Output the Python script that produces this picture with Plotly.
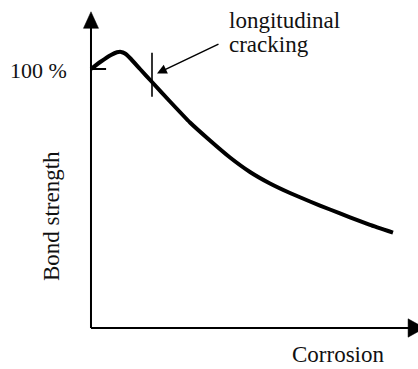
import plotly.graph_objects as go

# Idealised bond-strength vs. corrosion curve (bond strength in % of the uncorroded value)
corrosion = [0.0, 0.331, 0.662, 0.861, 0.993, 1.126, 1.291, 1.623, 2.020, 2.616, 3.278,
             3.940, 4.603, 5.265, 5.927, 6.589, 7.252, 7.914, 8.576, 9.238, 10.0]
bond_strength = [100.0, 102.9, 105.4, 106.45, 106.6, 106.0, 104.25, 100.0, 94.98, 87.45, 79.34,
                 72.39, 65.83, 60.23, 55.79, 52.12, 48.84, 45.75, 42.74, 39.77, 36.80]

# Onset of longitudinal cracking
crack_corrosion = 2.02
crack_span = [89.3, 106.3]
crack_label = ["longitudinal", "cracking"]

y_label = "Bond strength"
x_label = "Corrosion"
ref_label = "100 %"
ref_value = 100.0

# Plot window (data units) and axis-arrow extents
X_RANGE = [-3.013, 10.828]
Y_RANGE = [-15.83, 126.64]
Y_ARROW_BASE, Y_ARROW_TIP, Y_ARROW_HALF = 115.7, 122.1, 0.25
X_ARROW_BASE, X_ARROW_TIP, X_ARROW_HALF = 10.50, 11.05, 3.55

FONT = dict(family="Liberation Serif, Times New Roman, serif", size=23, color="#111111")

fig = go.Figure()

fig.add_trace(go.Scatter(
    x=corrosion, y=bond_strength, mode="lines",
    line=dict(color="black", width=4, shape="spline", smoothing=0.4),
    hoverinfo="skip", showlegend=False,
))

shapes = [
    # axes
    dict(type="line", x0=0, y0=0, x1=0, y1=Y_ARROW_BASE + 0.5,
         line=dict(color="black", width=2)),
    dict(type="line", x0=0, y0=0, x1=X_ARROW_BASE + 0.05, y1=0,
         line=dict(color="black", width=2)),
    dict(type="path",
         path=f"M {-Y_ARROW_HALF},{Y_ARROW_BASE} L {Y_ARROW_HALF},{Y_ARROW_BASE} L 0,{Y_ARROW_TIP} Z",
         fillcolor="black", line=dict(color="black", width=0.5)),
    dict(type="path",
         path=f"M {X_ARROW_BASE},{-X_ARROW_HALF} L {X_ARROW_BASE},{X_ARROW_HALF} L {X_ARROW_TIP},0 Z",
         fillcolor="black", line=dict(color="black", width=0.5)),
    # 100 % tick
    dict(type="line", x0=0, y0=ref_value, x1=0.5, y1=ref_value,
         line=dict(color="black", width=2)),
    # cracking marker
    dict(type="line", x0=crack_corrosion, y0=crack_span[0], x1=crack_corrosion, y1=crack_span[1],
         line=dict(color="black", width=1.6)),
]

annotations = [
    dict(x=0, y=ref_value, text=ref_label, showarrow=False, xanchor="right",
         yanchor="middle", xshift=-22, yshift=-1, font=dict(FONT, size=22)),
    dict(x=-1.325, y=43.2, text=y_label, showarrow=False, textangle=-90,
         xanchor="center", yanchor="middle", font=FONT),
    dict(x=8.18, y=-10.4, text=x_label, showarrow=False,
         xanchor="center", yanchor="middle", font=FONT),
    dict(x=4.50, y=118.9, text=crack_label[0], showarrow=False,
         xanchor="left", yanchor="middle", font=FONT),
    dict(x=4.50, y=109.3, text=crack_label[1], showarrow=False,
         xanchor="left", yanchor="middle", font=FONT),
    dict(x=2.185, y=98.3, text="", showarrow=True, ax=63, ay=-30,
         arrowhead=2, arrowsize=1.3, arrowwidth=1.5, arrowcolor="black"),
]

fig.update_layout(
    width=418, height=369,
    margin=dict(l=0, r=0, t=0, b=0),
    paper_bgcolor="white", plot_bgcolor="white",
    xaxis=dict(range=X_RANGE, visible=False, fixedrange=True),
    yaxis=dict(range=Y_RANGE, visible=False, fixedrange=True),
    shapes=shapes, annotations=annotations,
    showlegend=False,
)

fig.write_html("out.html")
